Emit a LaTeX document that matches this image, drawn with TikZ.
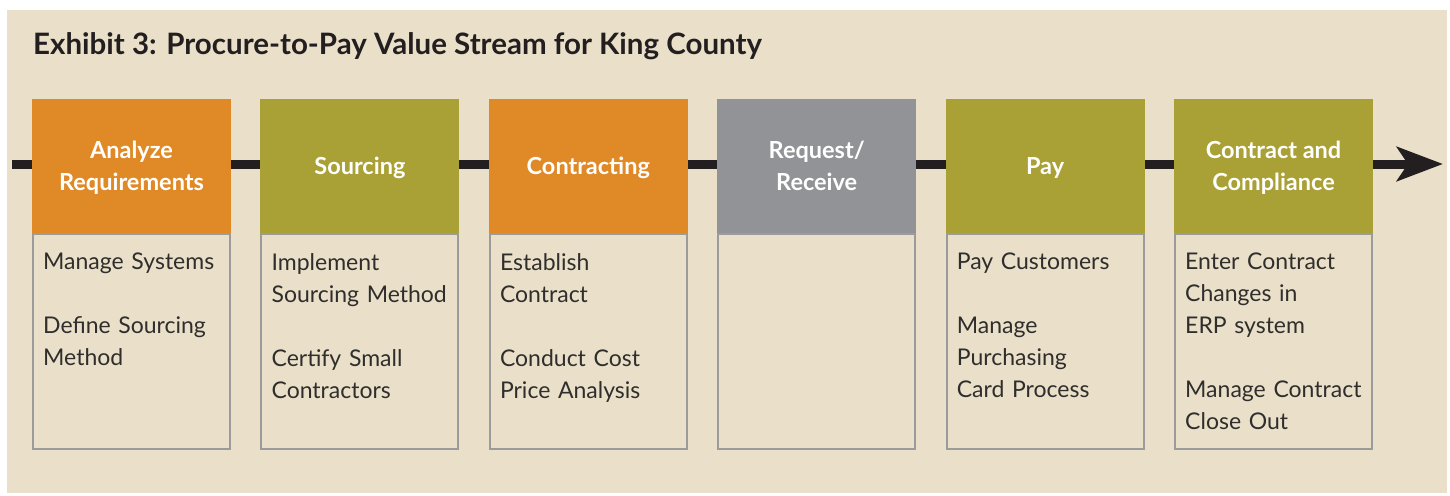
\documentclass[tikz,border=0pt]{standalone}
\usepackage{fontspec}
\setmainfont{Lato}
\usetikzlibrary{arrows.meta, positioning}
\definecolor{pagebg}{HTML}{EAE0C9}
\definecolor{steporange}{HTML}{E08A27}
\definecolor{stepolive}{HTML}{A9A036}
\definecolor{stepgrey}{HTML}{929396}
\definecolor{streamcolor}{HTML}{231F20}
\definecolor{boxline}{HTML}{9B9B9B}
\definecolor{bodytext}{HTML}{2F2E2D}
\tikzset{
    phase/.style={minimum width=199pt, minimum height=134pt, inner sep=0pt, outer sep=0pt, text depth=0pt, text=white, align=center, font=\fontsize{23.5}{32.5}\selectfont\bfseries},
    tasks/.style={draw=boxline, line width=2pt, fill=pagebg, minimum width=197pt, minimum height=215pt, inner sep=0pt, outer sep=0pt},
    tasktext/.style={text width=186pt, align=left, inner sep=0pt, text=bodytext, font=\fontsize{23}{32}\selectfont},
    stream/.style={line width=9pt, color=streamcolor},
}

\begin{document}
\begin{tikzpicture}[x=1pt, y=-1pt]

\useasboundingbox (0,0) rectangle (1450,495);
\fill[pagebg] (7,10) rectangle (1447,493);

\node[anchor=base west, inner sep=0pt, text=streamcolor, font=\fontsize{29.5}{34}\selectfont\bfseries] (title) at (33,55) {Exhibit 3: Procure-to-Pay Value Stream for King County};

% ============================================================
% task boxes (drawn first so the headers cover their top edge)
% ============================================================
\node[tasks] (tk1) at (131.5,341.5) {};
\node[tasks, right=31.4pt of tk1] (tk2) {};
\node[tasks, right=31.4pt of tk2] (tk3) {};
\node[tasks, right=31.4pt of tk3] (tk4) {};
\node[tasks, right=31.4pt of tk4] (tk5) {};
\node[tasks, right=31.4pt of tk5] (tk6) {};

\node[tasktext, below right=19pt and 10pt of tk1.north west] (txt1) {Manage Systems\\[32pt]Define Sourcing\\Method};
\node[tasktext, below right=19pt and 10pt of tk2.north west] (txt2) {Implement\\Sourcing Method\\[32pt]Certify Small\\Contractors};
\node[tasktext, below right=19pt and 10pt of tk3.north west] (txt3) {Establish\\Contract\\[32pt]Conduct Cost\\Price Analysis};
\node[tasktext, below right=19pt and 10pt of tk5.north west] (txt5) {Pay Customers\\[32pt]Manage\\Purchasing\\Card Process};
\node[tasktext, below right=19pt and 10pt of tk6.north west] (txt6) {Enter Contract\\Changes in\\ERP system\\[32pt]Manage Contract\\Close Out};

% ============================================================
% phase headers
% ============================================================
\node[phase, fill=steporange, above=1pt of tk1] (ph1) {Analyze\\Requirements};
\node[phase, fill=stepolive, above=1pt of tk2] (ph2) {Sourcing};
\node[phase, fill=steporange, above=1pt of tk3] (ph3) {Contracting};
\node[phase, fill=stepgrey, above=1pt of tk4] (ph4) {Request/\\Receive};
\node[phase, fill=stepolive, above=1pt of tk5] (ph5) {Pay};
\node[phase, fill=stepolive, above=1pt of tk6] (ph6) {Contract and\\Compliance};

% value stream line
\coordinate (s0) at (12,164);
\coordinate (s1) at (1443,164);
\draw[stream] (s0) -- (s0 -| ph1.west);
\draw[stream] (ph1.east |- s0) -- (ph2.west |- s0);
\draw[stream] (ph2.east |- s0) -- (ph3.west |- s0);
\draw[stream] (ph3.east |- s0) -- (ph4.west |- s0);
\draw[stream] (ph4.east |- s0) -- (ph5.west |- s0);
\draw[stream] (ph5.east |- s0) -- (ph6.west |- s0);
\draw[stream, -{Stealth[length=46pt, width=34pt, inset=11pt]}] (ph6.east |- s0) -- (s1);

\end{tikzpicture}
\end{document}
